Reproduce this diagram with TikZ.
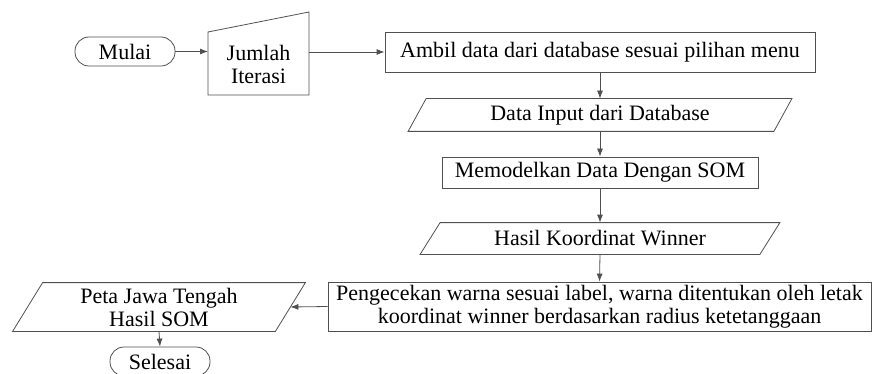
\documentclass[tikz,border=0pt]{standalone}
\usepackage{fontspec}
\setmainfont{Liberation Serif}
\usetikzlibrary{arrows.meta,calc}
\definecolor{ln}{HTML}{505050}
\begin{document}
\begin{tikzpicture}[x=1pt,y=-1pt,line width=0.8pt,
  every node/.style={font=\fontsize{22}{23}\selectfont,text=black,inner sep=0pt,align=center},
  term/.style={draw=ln,rounded corners=14pt,minimum width=100pt,minimum height=29pt},
  proc/.style={draw=ln,minimum width=#1},
  iob/.style={minimum width=#1},
  arr/.style={draw=ln,-{Latex[length=8pt,width=6pt]}},
  edge/.style={draw=ln}]
\useasboundingbox (0,0) rectangle (872,374);

% start
\node[term] (mulai) at (125,51.5) {Mulai};

% manual input
\coordinate (j1) at (208,95);
\coordinate (j2) at (208,32);
\coordinate (j3) at (309,12);
\coordinate (j4) at (309,95);
\draw[edge] (j1) -- (j2) -- (j3) -- (j4) -- cycle;
\node (jumlah) at (258.5,64) {Jumlah\\Iterasi};

% process: ambil
\node[proc=430pt,minimum height=40pt] (ambil) at (600,52) {Ambil data dari database sesuai pilihan menu};

% io: data input
\node[iob=365pt,minimum height=32pt] (din) at (600,115) {Data Input dari Database};
\draw[edge] ($(din.south west)+(-9,0)$) -- ($(din.north west)+(9,0)$) -- ($(din.north east)+(9,0)$) -- ($(din.south east)+(-9,0)$) -- cycle;

% process: memodelkan
\node[proc=316pt,minimum height=31pt] (som) at (600,172.5) {Memodelkan Data Dengan SOM};

% io: hasil
\node[iob=339pt,minimum height=31pt] (hasil) at (600,238.5) {Hasil Koordinat Winner};
\draw[edge] ($(hasil.south west)+(-10,0)$) -- ($(hasil.north west)+(10,0)$) -- ($(hasil.north east)+(10,0)$) -- ($(hasil.south east)+(-10,0)$) -- cycle;

% process: pengecekan
\node[proc=543pt,minimum height=49pt] (peng) at (599.5,306.5) {Pengecekan warna sesuai label, warna ditentukan oleh letak\\koordinat winner berdasarkan radius ketetanggaan};

% io: peta
\node[iob=262pt,minimum height=48pt] (peta) at (159,307) {Peta Jawa Tengah\\Hasil SOM};
\draw[edge] ($(peta.south west)+(-15,0)$) -- ($(peta.north west)+(15,0)$) -- ($(peta.north east)+(15,0)$) -- ($(peta.south east)+(-15,0)$) -- cycle;

% end
\node[term] (selesai) at (160,361.5) {Selesai};

% connectors
\draw[arr] (mulai.east) -- (mulai.east -| j1);
\draw[arr] (ambil.west -| j4) -- (ambil.west);
\draw[arr] (ambil.south) -- (din.north);
\draw[arr] (din.south) -- (som.north);
\draw[arr] (som.south) -- (hasil.north);
\draw[arr] (hasil.south) -- (peng.north);
\draw[arr] (peng.west) -- (peta.east);
\draw[arr] (peta.south) -- (selesai.north);
\end{tikzpicture}
\end{document}
